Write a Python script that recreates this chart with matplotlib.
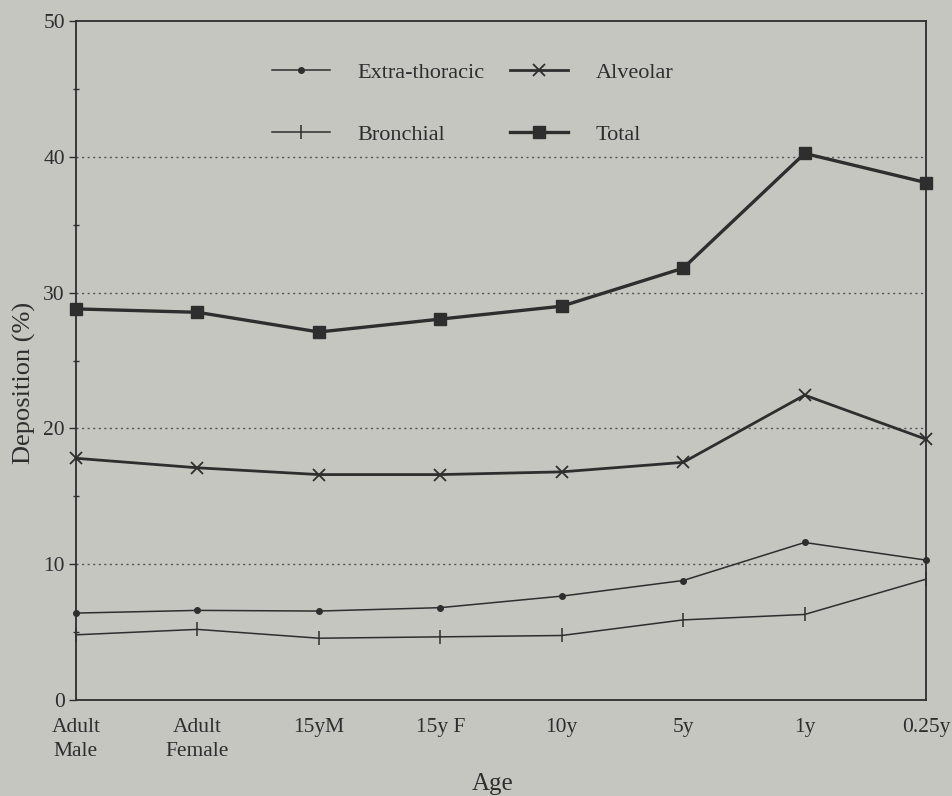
import matplotlib
matplotlib.use("Agg")
import matplotlib.pyplot as plt
from matplotlib.ticker import MultipleLocator

categories = ["Adult\nMale", "Adult\nFemale", "15yM", "15y F", "10y", "5y", "1y", "0.25y"]
extra_thoracic = [6.4, 6.6, 6.55, 6.8, 7.65, 8.8, 11.6, 10.3]
bronchial = [4.8, 5.2, 4.55, 4.65, 4.75, 5.9, 6.3, 8.9]
alveolar = [17.8, 17.1, 16.6, 16.6, 16.8, 17.5, 22.45, 19.2]
total = [28.8, 28.55, 27.1, 28.05, 29.0, 31.8, 40.25, 38.1]
y_ticks = [0, 10, 20, 30, 40, 50]

bg = "#c6c6c1"
ink = "#2e2e2e"

plt.rcParams['font.family'] = ['Liberation Serif', 'DejaVu Serif']

fig = plt.figure(figsize=(9.52, 7.96), dpi=100, facecolor=bg)
ax = fig.add_axes([0.0798, 0.1206, 0.893, 0.853])
ax.set_facecolor(bg)

x = list(range(len(categories)))
h1, = ax.plot(x, extra_thoracic, color=ink, lw=1.1, marker='o', ms=4, label="Extra-thoracic", clip_on=False, zorder=3)
h2, = ax.plot(x, bronchial, color=ink, lw=1.1, marker='|', ms=10, mew=1.1, label="Bronchial", clip_on=False, zorder=3)
h3, = ax.plot(x, alveolar, color=ink, lw=2.0, marker='x', ms=9, mew=1.3, label="Alveolar", clip_on=False, zorder=3)
h4, = ax.plot(x, total, color=ink, lw=2.4, marker='s', ms=9, label="Total", clip_on=False, zorder=3)

ax.set_xlim(0, len(categories) - 1)
ax.set_ylim(0, 50)
ax.set_yticks(y_ticks)
ax.yaxis.set_minor_locator(MultipleLocator(5))
ax.set_xticks(x)
ax.set_xticklabels(categories, fontsize=15.5, color=ink)
ax.tick_params(axis='x', length=0, pad=13)
ax.tick_params(axis='y', which='major', direction='out', length=5, labelsize=15.5, colors=ink, width=1, pad=3)
ax.tick_params(axis='y', which='minor', direction='inout', length=4, colors=ink, width=1)
for lbl in ax.get_xticklabels():
    lbl.set_linespacing(1.35)

for v in [10, 20, 30, 40]:
    ax.axhline(v, color="#555555", lw=1.0, ls=(0, (1.5, 2.5)), zorder=1)

for s in ax.spines.values():
    s.set_color(ink)
    s.set_linewidth(1.3)

ax.set_ylabel("Deposition (%)", fontsize=19, color=ink)
ax.yaxis.set_label_coords(-0.047, 0.467)
ax.set_xlabel("Age", fontsize=18, color=ink)
ax.xaxis.set_label_coords(0.49, -0.108)

leg = ax.legend(handles=[h1, h2, h3, h4], ncol=2, loc='upper left',
                bbox_to_anchor=(0.2306, 0.9396), frameon=False, fontsize=16,
                borderpad=0, borderaxespad=0,
                handlelength=2.6, columnspacing=1.15, labelspacing=1.89,
                handletextpad=1.25)
for t in leg.get_texts():
    t.set_color(ink)

fig.savefig("out.png", dpi=100, facecolor=bg)
